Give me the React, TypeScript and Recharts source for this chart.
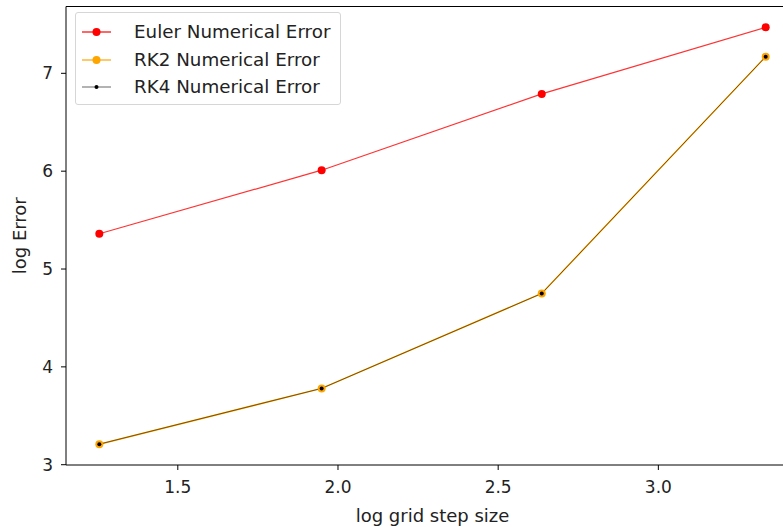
import { LineChart, Line, XAxis, YAxis, Label } from 'recharts';

const logStep = [1.255, 1.949, 2.636, 3.335];
const eulerErr = [5.36, 6.01, 6.79, 7.47];
const rk2Err = [3.21, 3.78, 4.75, 7.17];
const rk4Err = [3.21, 3.78, 4.75, 7.17];
const xTicks = [1.5, 2.0, 2.5, 3.0];
const yTicks = [3, 4, 5, 6, 7];

const data = logStep.map((x, i) => ({ x, euler: eulerErr[i], rk2: rk2Err[i], rk4: rk4Err[i] }));

const font = '"DejaVu Sans", sans-serif';

const legendItems = [
  { name: 'Euler Numerical Error', color: '#ff0000', r: 4, line: '#ff0000' },
  { name: 'RK2 Numerical Error', color: '#ffa500', r: 4, line: '#ffa500' },
  { name: 'RK4 Numerical Error', color: '#000000', r: 2, line: '#808080' },
];

function LegendBox() {
  return (
    <div
      style={{
        position: 'absolute',
        left: 75,
        top: 12,
        width: 264,
        height: 91,
        border: '1px solid #d6d6d6',
        borderRadius: 3,
        background: 'rgba(255,255,255,0.85)',
        fontFamily: font,
        fontSize: 18.3,
        color: '#222',
      }}
    >
      {legendItems.map((it, i) => (
        <div key={it.name} style={{ position: 'absolute', left: 0, top: 8 + i * 27.5, height: 22, width: '100%' }}>
          <svg width={32} height={22} style={{ position: 'absolute', left: 6, top: 0 }}>
            <line x1={0} y1={11} x2={29} y2={11} stroke={it.line} strokeWidth={1.2} />
            <circle cx={14.5} cy={11} r={it.r} fill={it.color} />
          </svg>
          <span style={{ position: 'absolute', left: 58, top: 0, lineHeight: '22px', whiteSpace: 'nowrap' }}>{it.name}</span>
        </div>
      ))}
    </div>
  );
}

export default function App() {
  return (
    <div style={{ position: 'fixed', left: 0, top: 0, width: 783, height: 527, overflow: 'hidden', background: '#fff' }}>
      <LineChart
        width={812}
        height={527}
        data={data}
        margin={{ top: 6.5, right: 13, bottom: 0, left: 0 }}
      >
        <XAxis
          dataKey="x"
          type="number"
          domain={[1.151, 3.439]}
          ticks={xTicks}
          tickFormatter={(v: number) => v.toFixed(1)}
          height={62}
          axisLine={{ stroke: '#000', strokeWidth: 1 }}
          tickLine={{ stroke: '#000' }}
          tickSize={5}
          tickMargin={11}
          tick={{ fill: '#222', fontSize: 17, fontFamily: font }}
          allowDataOverflow
        >
          <Label value="log grid step size" position="insideBottom" offset={5} style={{ fill: '#222', fontSize: 18, fontFamily: font }} />
        </XAxis>
        <YAxis
          type="number"
          domain={[2.997, 7.683]}
          ticks={yTicks}
          width={66}
          axisLine={{ stroke: '#000', strokeWidth: 1 }}
          tickLine={{ stroke: '#000' }}
          tickSize={5}
          tickMargin={8}
          tick={{ fill: '#222', fontSize: 17, fontFamily: font }}
          allowDataOverflow
        >
          <Label value="log Error" angle={-90} position="insideLeft" offset={20} style={{ fill: '#222', fontSize: 18, fontFamily: font, textAnchor: 'middle' }} />
        </YAxis>
        <Line
          dataKey="euler"
          stroke="#ff0000"
          strokeOpacity={0.8}
          strokeWidth={1.2}
          dot={{ r: 4, fill: '#ff0000', stroke: 'none' }}
          isAnimationActive={false}
        />
        <Line
          dataKey="rk2"
          stroke="#ffa500"
          strokeWidth={1.5}
          dot={{ r: 4, fill: '#ffa500', stroke: 'none' }}
          isAnimationActive={false}
        />
        <Line
          dataKey="rk4"
          stroke="#000000"
          strokeOpacity={0.5}
          strokeWidth={1}
          dot={{ r: 2, fill: '#000', stroke: 'none' }}
          isAnimationActive={false}
        />
      </LineChart>
      {/* top spine */}
      <div style={{ position: 'absolute', left: 66, top: 6, width: 740, height: 0, borderTop: '1px solid #000' }} />
      <LegendBox />
    </div>
  );
}
